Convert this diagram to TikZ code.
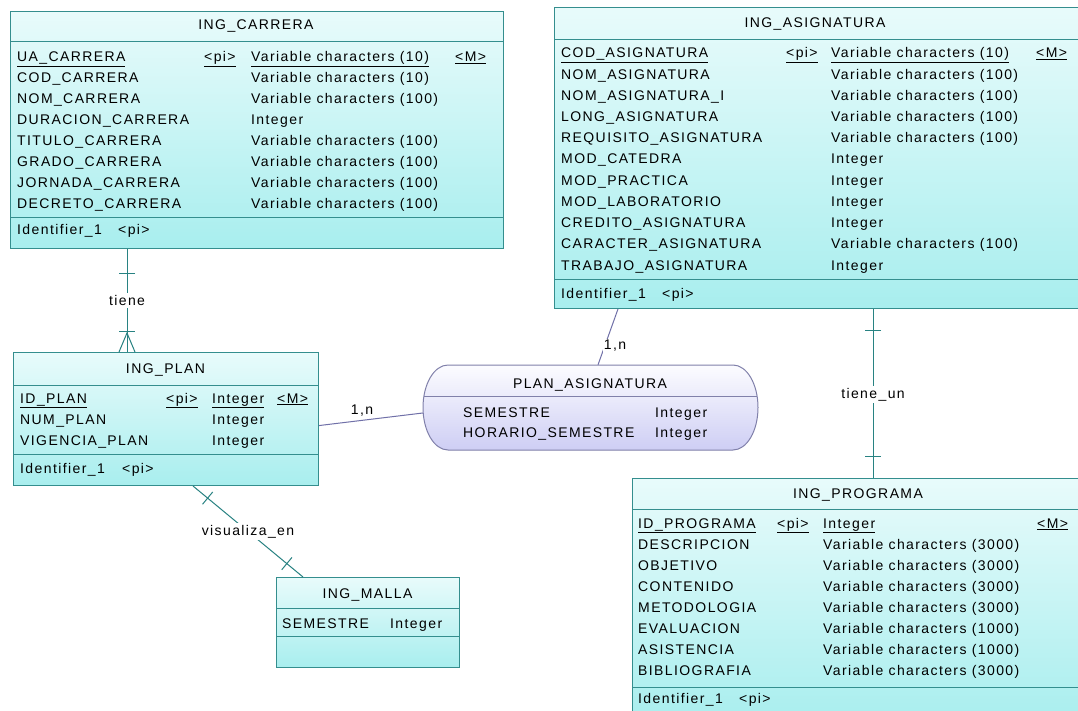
\documentclass[tikz,border=0pt]{standalone}
\usepackage{fontspec}
\setmainfont{Liberation Sans}
\newfontfamily\erfont[LetterSpace=10]{Liberation Sans}
\usetikzlibrary{calc}

\definecolor{entline}{RGB}{52,142,142}
\definecolor{enttop}{RGB}{232,251,251}
\definecolor{entbot}{RGB}{168,238,238}
\definecolor{relline}{RGB}{40,130,130}
\definecolor{assline}{RGB}{112,112,168}
\definecolor{assedge}{RGB}{128,128,170}
\definecolor{asstop}{RGB}{252,252,255}
\definecolor{assbot}{RGB}{206,206,244}

\tikzset{
  entity/.style={draw=entline, line width=1pt, top color=enttop, bottom color=entbot,
    anchor=north west, inner sep=0pt},
  rule/.style={draw=entline, line width=1pt},
  txt/.style={anchor=base west, inner sep=0pt, text=black,
    font=\erfont\fontsize{14}{17}\selectfont},
  ttl/.style={anchor=base, inner sep=0pt, text=black,
    font=\erfont\fontsize{14}{17}\selectfont},
  conn/.style={draw=relline, line width=1pt},
  alink/.style={draw=assline, line width=1pt},
  lbl/.style={fill=white, inner sep=2pt, text=black,
    font=\erfont\fontsize{14}{17}\selectfont},
}

% short bar across a link, #3 away from #1 towards #2
\newcommand\erbar[3]{%
  \coordinate (bm) at ($(#1)!#3!(#2)$);
  \draw[conn] ($(bm)!8pt!90:(#2)$) -- ($(bm)!8pt!-90:(#2)$);
}

\begin{document}
\begin{tikzpicture}[x=1pt,y=-1pt]
\useasboundingbox (0,0) rectangle (1078,711);
\clip (0,0) rectangle (1078,711);
\fill[white] (0,0) rectangle (1078,711);

% ---------------- ING_CARRERA
\node[entity, minimum width=493, minimum height=237] (car) at (10,11) {};
\draw[rule] ($(car.north west)+(0,31)$) -- ($(car.north east)+(0,31)$);
\draw[rule] ($(car.north west)+(0,207)$) -- ($(car.north east)+(0,207)$);
\node[ttl] (car-title) at (256,30) {ING\_CARRERA};
\node[txt] (car-k) at (17,62) {\underline{UA\_CARRERA}};
\node[txt] (car-kpi) at (204,62) {\underline{<pi>}};
\node[txt] (car-kt) at (251,62) {\underline{Variable characters (10)}};
\node[txt] (car-km) at (455,62) {\underline{<M>}};
\foreach [count=\i] \nm/\ty in {COD\_CARRERA/Variable characters (10),
  NOM\_CARRERA/Variable characters (100), DURACION\_CARRERA/Integer,
  TITULO\_CARRERA/Variable characters (100), GRADO\_CARRERA/Variable characters (100),
  JORNADA\_CARRERA/Variable characters (100), DECRETO\_CARRERA/Variable characters (100)} {
  \node[txt] (car-n\i) at (17,{62+20.9*\i}) {\nm};
  \node[txt] (car-t\i) at (251,{62+20.9*\i}) {\ty};
}
\node[txt] (car-id) at (17,235) {Identifier\_1};
\node[txt] (car-idpi) at (118,235) {<pi>};

% ---------------- ING_ASIGNATURA
\node[entity, minimum width=540, minimum height=301] (asig) at (554,7) {};
\draw[rule] ($(asig.north west)+(0,33)$) -- ($(asig.north east)+(0,33)$);
\draw[rule] ($(asig.north west)+(0,272)$) -- ($(asig.north east)+(0,272)$);
\node[ttl] (asig-title) at (815,28) {ING\_ASIGNATURA};
\node[txt] (asig-k) at (561,58) {\underline{COD\_ASIGNATURA}};
\node[txt] (asig-kpi) at (786,58) {\underline{<pi>}};
\node[txt] (asig-kt) at (831,58) {\underline{Variable characters (10)}};
\node[txt] (asig-km) at (1036,58) {\underline{<M>}};
\foreach [count=\i] \nm/\ty in {NOM\_ASIGNATURA/Variable characters (100),
  NOM\_ASIGNATURA\_I/Variable characters (100), LONG\_ASIGNATURA/Variable characters (100),
  REQUISITO\_ASIGNATURA/Variable characters (100), MOD\_CATEDRA/Integer,
  MOD\_PRACTICA/Integer, MOD\_LABORATORIO/Integer, CREDITO\_ASIGNATURA/Integer,
  CARACTER\_ASIGNATURA/Variable characters (100), TRABAJO\_ASIGNATURA/Integer} {
  \node[txt] (asig-n\i) at (561,{58+21.2*\i}) {\nm};
  \node[txt] (asig-t\i) at (831,{58+21.2*\i}) {\ty};
}
\node[txt] (asig-id) at (561,298) {Identifier\_1};
\node[txt] (asig-idpi) at (662,298) {<pi>};

% ---------------- ING_PLAN
\node[entity, minimum width=305, minimum height=133] (plan) at (13,352) {};
\draw[rule] ($(plan.north west)+(0,33)$) -- ($(plan.north east)+(0,33)$);
\draw[rule] ($(plan.north west)+(0,102)$) -- ($(plan.north east)+(0,102)$);
\node[ttl] (plan-title) at (165.5,373) {ING\_PLAN};
\node[txt] (plan-k) at (20,403) {\underline{ID\_PLAN}};
\node[txt] (plan-kpi) at (166,403) {\underline{<pi>}};
\node[txt] (plan-kt) at (212,403) {\underline{Integer}};
\node[txt] (plan-km) at (277,403) {\underline{<M>}};
\foreach [count=\i] \nm in {NUM\_PLAN, VIGENCIA\_PLAN} {
  \node[txt] (plan-n\i) at (20,{403+21.3*\i}) {\nm};
  \node[txt] (plan-t\i) at (212,{403+21.3*\i}) {Integer};
}
\node[txt] (plan-id) at (20,473) {Identifier\_1};
\node[txt] (plan-idpi) at (122,473) {<pi>};

% ---------------- ING_MALLA
\node[entity, minimum width=183, minimum height=90] (malla) at (276,577) {};
\draw[rule] ($(malla.north west)+(0,31)$) -- ($(malla.north east)+(0,31)$);
\draw[rule] ($(malla.north west)+(0,59)$) -- ($(malla.north east)+(0,59)$);
\node[ttl] (malla-title) at (367.5,598) {ING\_MALLA};
\node[txt] (malla-n1) at (282,628) {SEMESTRE};
\node[txt] (malla-t1) at (390,628) {Integer};

% ---------------- ING_PROGRAMA
\node[entity, minimum width=460, minimum height=245] (prog) at (632,478) {};
\draw[rule] ($(prog.north west)+(0,31)$) -- ($(prog.north east)+(0,31)$);
\draw[rule] ($(prog.north west)+(0,209)$) -- ($(prog.north east)+(0,209)$);
\node[ttl] (prog-title) at (858,498) {ING\_PROGRAMA};
\node[txt] (prog-k) at (638,528) {\underline{ID\_PROGRAMA}};
\node[txt] (prog-kpi) at (777,528) {\underline{<pi>}};
\node[txt] (prog-kt) at (823,528) {\underline{Integer}};
\node[txt] (prog-km) at (1037,528) {\underline{<M>}};
\foreach [count=\i] \nm/\ty in {DESCRIPCION/Variable characters (3000),
  OBJETIVO/Variable characters (3000), CONTENIDO/Variable characters (3000),
  METODOLOGIA/Variable characters (3000), EVALUACION/Variable characters (1000),
  ASISTENCIA/Variable characters (1000), BIBLIOGRAFIA/Variable characters (3000)} {
  \node[txt] (prog-n\i) at (638,{528+21*\i}) {\nm};
  \node[txt] (prog-t\i) at (823,{528+21*\i}) {\ty};
}
\node[txt] (prog-id) at (638,703) {Identifier\_1};
\node[txt] (prog-idpi) at (739,703) {<pi>};

% ---------------- PLAN_ASIGNATURA (association)
\node[inner sep=0pt, minimum width=335, minimum height=85] (pa) at (590.5,407.5) {};
\path[draw=assedge, line width=1pt, top color=asstop, bottom color=assbot]
  (448,365) -- (733,365)
  arc[start angle=-90, end angle=90, x radius=25, y radius=42.5]
  -- (448,450)
  arc[start angle=90, end angle=270, x radius=25, y radius=42.5] -- cycle;
\draw[draw=assedge, line width=1pt] ($(pa.north west)+(1,32)$) -- ($(pa.north east)+(-1,32)$);
\node[ttl] (pa-title) at (590,388) {PLAN\_ASIGNATURA};
\node[txt] (pa-n1) at (463,417) {SEMESTRE};
\node[txt] (pa-t1) at (655,417) {Integer};
\node[txt] (pa-n2) at (463,437) {HORARIO\_SEMESTRE};
\node[txt] (pa-t2) at (655,437) {Integer};

% ---------------- tiene: ING_CARRERA 1 -- n ING_PLAN
\coordinate (t1) at ($(car.south west)+(117,0)$);
\coordinate (t2) at ($(plan.north west)+(114,0)$);
\draw[conn] (t1) -- (t2);
\erbar{t1}{t2}{24pt}
\erbar{t2}{t1}{21pt}
\draw[conn] ($(t2)!8pt!90:(t1)$) -- ($(t2)!19pt!(t1)$) -- ($(t2)!8pt!-90:(t1)$);
\node[lbl] (tiene) at ($(t1)!0.5!(t2)$) {tiene};

% ---------------- tiene_un: ING_ASIGNATURA 1 -- 1 ING_PROGRAMA
\coordinate (u1) at ($(asig.south west)+(319,0)$);
\coordinate (u2) at ($(prog.north west)+(241,0)$);
\draw[conn] (u1) -- (u2);
\erbar{u1}{u2}{21pt}
\erbar{u2}{u1}{22pt}
\node[lbl] (tieneun) at ($(u1)!0.508!(u2)$) {tiene\_un};

% ---------------- visualiza_en: ING_PLAN 1 -- 1 ING_MALLA
\coordinate (v1) at ($(plan.south west)+(180,0)$);
\coordinate (v2) at ($(malla.north west)+(27,0)$);
\draw[conn] (v1) -- (v2);
\erbar{v1}{v2}{19pt}
\erbar{v2}{v1}{21pt}
\node[lbl] (visualiza) at ($(v1)!0.5!(v2)$) {visualiza\_en};

% ---------------- association links of PLAN_ASIGNATURA
\coordinate (l1) at ($(plan.north east)!0.549!(plan.south east)$);
\coordinate (l2) at ($(pa.west)+(0,5.5)$);
\draw[alink] (l1) -- (l2);
\node[lbl, inner sep=1pt] (card1) at (362,411) {1,n};

\coordinate (m1) at ($(asig.south west)+(64,0)$);
\coordinate (m2) at ($(pa.north)+(7.5,0)$);
\draw[alink] (m1) -- (m2);
\node[lbl, inner sep=1pt] (card2) at (615,346) {1,n};
\end{tikzpicture}
\end{document}
